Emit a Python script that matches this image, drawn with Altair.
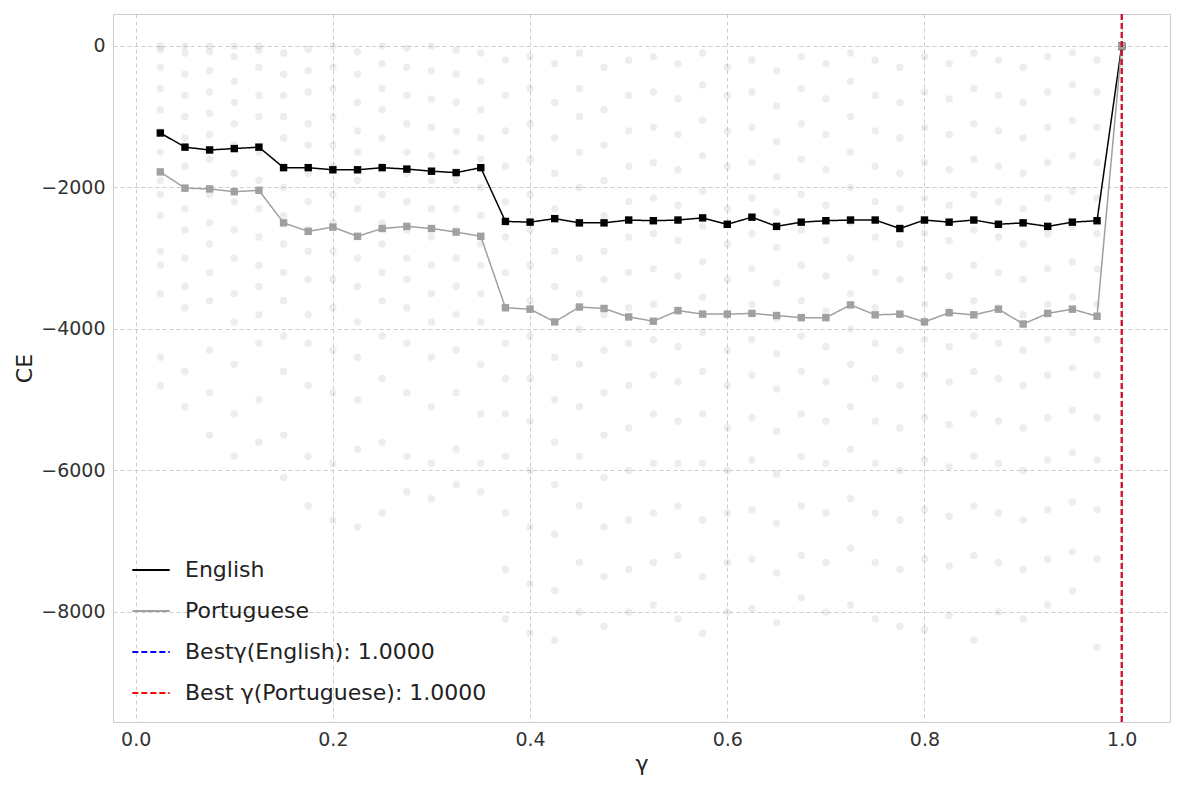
import altair as alt
import pandas as pd

gamma = [round(0.025 * i, 3) for i in range(1, 41)]
english = [-1230, -1430, -1470, -1450, -1430, -1720, -1720, -1750, -1750, -1720,
           -1740, -1770, -1790, -1720, -2480, -2490, -2440, -2500, -2500, -2460,
           -2470, -2460, -2430, -2520, -2420, -2550, -2490, -2470, -2460, -2460,
           -2580, -2460, -2490, -2460, -2520, -2500, -2550, -2490, -2470, 0]
portuguese = [-1780, -2010, -2020, -2060, -2040, -2500, -2620, -2560, -2690, -2580,
              -2550, -2580, -2630, -2690, -3700, -3720, -3900, -3690, -3710, -3830,
              -3890, -3740, -3790, -3790, -3780, -3810, -3840, -3840, -3660, -3800,
              -3790, -3900, -3770, -3800, -3720, -3930, -3780, -3720, -3820, 0]

scatter_ce = [
    [0, -50, -300, -600, -900, -1200, -1500, -1900, -2100, -2400, -2900, -3100, -3500, -4400, -4800],
    [0, -100, -400, -700, -1000, -1300, -1700, -2000, -2300, -2600, -3000, -3400, -3700, -4600, -5100],
    [0, -80, -350, -650, -950, -1250, -1600, -2100, -2500, -2800, -3200, -3600, -4300, -4900, -5500],
    [0, -150, -500, -800, -1100, -1400, -1800, -2200, -2600, -3000, -3500, -3900, -4500, -5200, -5800],
    [0, -60, -300, -700, -1000, -1500, -1900, -2300, -2700, -3100, -3400, -3800, -4200, -5000, -5600],
    [-100, -400, -700, -1000, -1300, -1700, -2000, -2400, -2800, -3200, -3600, -4100, -4600, -5500, -6100],
    [-50, -350, -650, -1100, -1400, -1800, -2200, -2600, -2900, -3300, -3800, -4200, -4800, -5800, -6500],
    [0, -300, -600, -1000, -1400, -1700, -2100, -2500, -2900, -3300, -3700, -4300, -4900, -5900, -6700],
    [-80, -400, -800, -1200, -1500, -1900, -2300, -2700, -3000, -3400, -3900, -4400, -5000, -5700, -6800],
    [0, -250, -600, -900, -1300, -1700, -2100, -2500, -2800, -3200, -3600, -4100, -4700, -5600, -6600],
    [-30, -300, -700, -1100, -1500, -1800, -2200, -2600, -3000, -3300, -3700, -4200, -4900, -5800, -6300],
    [0, -350, -750, -1150, -1550, -1900, -2300, -2700, -3100, -3500, -3900, -4400, -5100, -5900, -6400],
    [-60, -400, -800, -1200, -1500, -1900, -2300, -2600, -3000, -3400, -3800, -4300, -4900, -5700, -6200],
    [-100, -500, -900, -1300, -1600, -2000, -2400, -2800, -3100, -3500, -3900, -4500, -5200, -5900, -6300],
    [-200, -700, -1200, -1700, -2200, -2700, -3200, -3700, -4200, -4700, -5200, -5800, -6600, -7400, -8100],
    [-150, -600, -1100, -1600, -2100, -2600, -3100, -3600, -4100, -4700, -5300, -6000, -6800, -7600, -8300],
    [-250, -800, -1300, -1800, -2300, -2900, -3400, -3900, -4400, -5000, -5600, -6200, -6900, -7700, -8400],
    [-100, -600, -1000, -1500, -2000, -2500, -3000, -3500, -4000, -4500, -5100, -5800, -6500, -7300, -8000],
    [-300, -900, -1400, -1900, -2400, -2900, -3300, -3800, -4300, -4900, -5500, -6100, -6800, -7500, -8200],
    [-200, -700, -1200, -1700, -2200, -2700, -3200, -3700, -4200, -4800, -5400, -6000, -6700, -7400, -8000],
    [-150, -650, -1150, -1650, -2150, -2650, -3150, -3650, -4150, -4650, -5200, -5900, -6600, -7300, -7900],
    [-250, -750, -1250, -1750, -2250, -2750, -3250, -3750, -4250, -4750, -5300, -5900, -6500, -7200, -8100],
    [-100, -550, -1050, -1550, -2050, -2550, -3050, -3550, -4050, -4600, -5200, -5900, -6700, -7500, -8300],
    [-300, -700, -1200, -1700, -2300, -2800, -3300, -3800, -4300, -4800, -5400, -6000, -6600, -7300, -8000],
    [-200, -650, -1150, -1650, -2150, -2650, -3150, -3650, -4150, -4650, -5250, -5850, -6550, -7250, -7950],
    [-350, -850, -1350, -1850, -2350, -2850, -3350, -3850, -4350, -4850, -5450, -6050, -6750, -7450, -8150],
    [-150, -600, -1100, -1600, -2100, -2600, -3100, -3600, -4100, -4600, -5200, -5800, -6500, -7200, -7800],
    [-250, -750, -1250, -1750, -2250, -2750, -3250, -3750, -4250, -4750, -5300, -5900, -6600, -7300, -8000],
    [-100, -500, -1000, -1500, -2000, -2500, -3000, -3500, -4000, -4500, -5100, -5700, -6400, -7100, -7900],
    [-200, -700, -1200, -1700, -2200, -2700, -3200, -3700, -4200, -4700, -5300, -5900, -6600, -7300, -8100],
    [-300, -800, -1300, -1800, -2300, -2800, -3300, -3800, -4300, -4800, -5400, -6000, -6700, -7400, -8200],
    [-150, -650, -1150, -1650, -2150, -2650, -3150, -3650, -4150, -4650, -5250, -5850, -6550, -7250, -8250],
    [-250, -750, -1250, -1750, -2250, -2750, -3250, -3750, -4250, -4750, -5350, -5950, -6650, -7350, -8050],
    [-100, -600, -1100, -1600, -2100, -2600, -3100, -3600, -4100, -4600, -5200, -5800, -6500, -7200, -8400],
    [-200, -700, -1200, -1700, -2200, -2700, -3200, -3700, -4200, -4700, -5300, -5900, -6600, -7300, -8000],
    [-300, -800, -1300, -1800, -2300, -2800, -3300, -3800, -4300, -4800, -5400, -6000, -6700, -7400, -8100],
    [-150, -650, -1150, -1650, -2150, -2650, -3150, -3650, -4150, -4650, -5250, -5850, -6550, -7250, -7900],
    [-100, -550, -1050, -1550, -2050, -2550, -3050, -3550, -4050, -4550, -5150, -5750, -6450, -7150, -7700],
    [-200, -650, -1150, -1650, -2150, -2650, -3150, -3650, -4150, -4650, -5250, -5850, -6550, -7250, -8500],
    [0, -10, -20, -30, -5, 0, -15, -25, 0, -10, -5, 0, -20, -10, 0],
]

series_names = ["English", "Portuguese", "Best\u03b3(English): 1.0000", "Best \u03b3(Portuguese): 1.0000"]
best_gamma = [1.0, 1.0]

scat = pd.DataFrame([{"gamma": g, "CE": v} for g, vals in zip(gamma, scatter_ce) for v in vals])
lines = pd.DataFrame(
    [{"gamma": g, "CE": v, "series": series_names[0]} for g, v in zip(gamma, english)] +
    [{"gamma": g, "CE": v, "series": series_names[1]} for g, v in zip(gamma, portuguese)]
)
best = pd.DataFrame({"gamma": best_gamma, "series": series_names[2:]})

xs = alt.Scale(domain=[-0.023, 1.049], nice=False, zero=False)
ys = alt.Scale(domain=[-9555, 452], nice=False, zero=False)
leg = alt.Legend(title=None, orient="bottom-left", labelFontSize=22, symbolType="stroke",
                 symbolSize=1400, symbolStrokeWidth=2, rowPadding=10, labelLimit=500,
                 offset=18, labelFont="DejaVu Sans", labelColor="#222222", labelOffset=14)
color = alt.Color("series:N", scale=alt.Scale(domain=series_names, range=["black", "#a0a0a0", "blue", "red"]), legend=leg)
dash = alt.StrokeDash("series:N", scale=alt.Scale(domain=series_names, range=[[1, 0], [1, 0], [6, 3], [6, 3]]), legend=leg)

xax = alt.Axis(title="\u03b3", values=[0, 0.2, 0.4, 0.6, 0.8, 1.0], format=".1f")
yax = alt.Axis(title="CE", values=[0, -2000, -4000, -6000, -8000], format="d")

pts = alt.Chart(scat).mark_circle(size=55, color="#888888", opacity=0.15).encode(
    x=alt.X("gamma:Q", scale=xs, axis=xax), y=alt.Y("CE:Q", scale=ys, axis=yax))
ln = alt.Chart(lines).mark_line(strokeWidth=1.5, point=alt.OverlayMarkDef(shape="square", size=55, filled=True)).encode(
    x=alt.X("gamma:Q", scale=xs), y=alt.Y("CE:Q", scale=ys), color=color, strokeDash=dash)
rl = alt.Chart(best).mark_rule(strokeWidth=1.8).encode(x=alt.X("gamma:Q", scale=xs), color=color, strokeDash=dash)

chart = alt.layer(pts, ln, rl).properties(width=1057, height=708, background="white").configure_axis(
    labelFontSize=19, titleFontSize=22, labelFont="DejaVu Sans", titleFont="DejaVu Sans",
    titleFontWeight="normal", domain=False, ticks=False, labelColor="#333333", titleColor="#222222",
    labelPadding=8, gridDash=[4, 3], gridColor="#cccccc"
).configure_view(stroke="#cccccc")

chart.save("out.html", embed_options={"renderer": "svg", "actions": False})
